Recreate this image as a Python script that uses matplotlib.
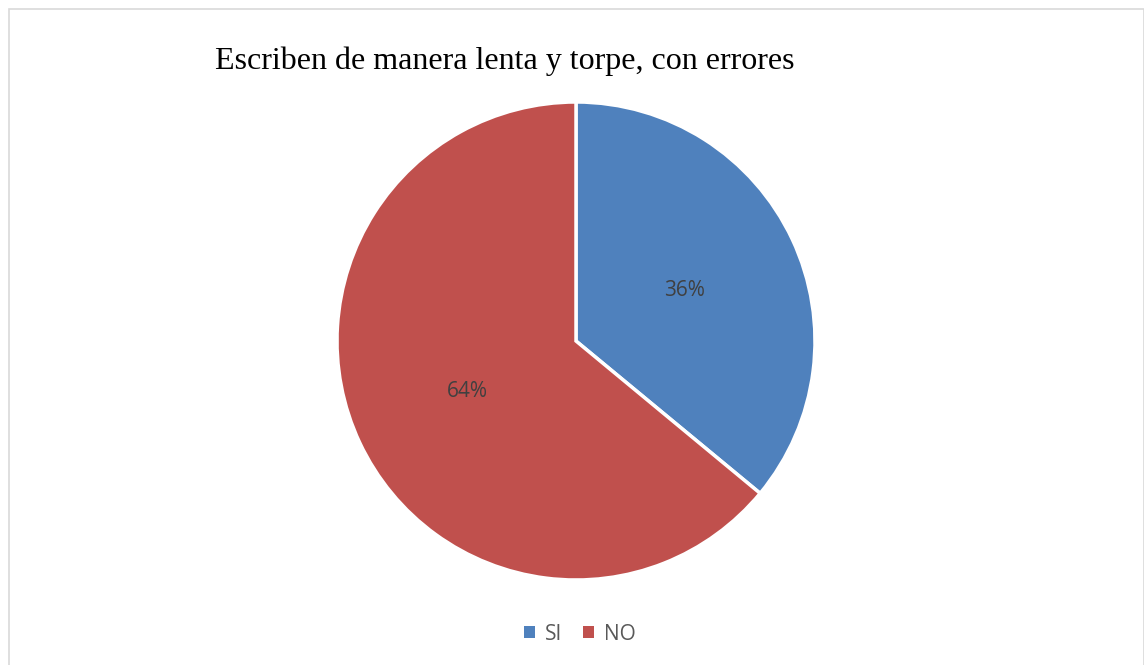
import matplotlib.pyplot as plt
from matplotlib.patches import Rectangle, Patch

labels = ['SI', 'NO']
values = [36, 64]
colors = ['#4F81BD', '#C0504D']
title = 'Escriben de manera lenta y torpe, con errores'

W, H = 1144, 665
fig = plt.figure(figsize=(W / 100, H / 100), dpi=100)
fig.patch.set_facecolor('white')

# light gray chart border
fig.add_artist(Rectangle((8.5 / W, -0.05), (W - 9.0) / W, 1 - 8.5 / H + 0.05,
                         transform=fig.transFigure, fill=False,
                         edgecolor='#D9D9D9', linewidth=1.2))

cx, cy, r = 576, 341, 239
ax = fig.add_axes([(cx - r) / W, (H - cy - r) / H, 2 * r / W, 2 * r / H])
wedges, texts, autotexts = ax.pie(values, colors=colors, startangle=90, counterclock=False,
                                  autopct='%1.0f%%', pctdistance=0.5,
                                  wedgeprops=dict(edgecolor='white', linewidth=2.5),
                                  textprops=dict(fontsize=15, color='#404040', family='Open Sans'))
ax.set_xlim(-1, 1)
ax.set_ylim(-1, 1)
ax.set_aspect('auto')

fig.text(215 / W, 1 - 61 / H, title, fontsize=23, family='Liberation Serif',
         ha='left', va='center', color='black')

handles = [Patch(facecolor=c, edgecolor='none') for c in colors]
fig.legend(handles, labels, loc='center', bbox_to_anchor=(580 / W, 1 - 634 / H),
           ncol=2, frameon=False, handlelength=0.5, handleheight=0.5,
           handletextpad=0.5, columnspacing=1.0,
           prop=dict(family='Open Sans', size=15), labelcolor='#595959')

fig.savefig('out.png', dpi=100)
